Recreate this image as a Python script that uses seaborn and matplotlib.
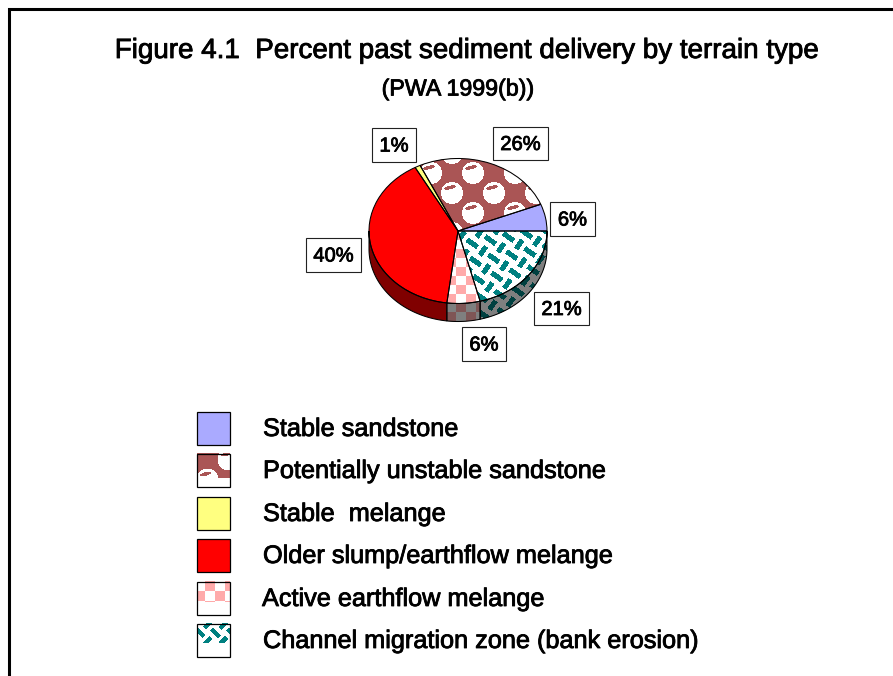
import numpy as np
import seaborn as sns
import matplotlib.pyplot as plt
import matplotlib.patheffects as pe
from matplotlib.patches import Rectangle

W, H = 893, 676

title = "Figure 4.1  Percent past sediment delivery by terrain type"
subtitle = "(PWA 1999(b))"
terrain_types = ["Stable sandstone", "Potentially unstable sandstone", "Stable  melange",
                 "Older slump/earthflow melange", "Active earthflow melange",
                 "Channel migration zone (bank erosion)"]
percent = [6, 26, 1, 40, 6, 21]
slice_colors = ["#AAAAFF", "#AA5555", "#FFFF80", "#FF0000", "#FFAAAA", "#008080"]

# label boxes, left/top/right/bottom in pixels
label_boxes = [(550, 202, 595, 236), (493, 127, 548, 160), (372, 128, 416, 162),
               (306, 238, 361, 272), (462, 327, 506, 361), (534, 292, 589, 325)]
legend_y = [428, 470, 513, 555, 598, 640]
legend_text_x = [263, 263, 263, 263, 262, 263]

CX, CY, RX, RY, DEPTH = 458, 231, 89, 72.5, 18

sns.set_theme(style="white", font="Liberation Sans")
palette = sns.color_palette(slice_colors)
white = np.array([1.0, 1.0, 1.0])


def blend(mask, fg, bg=white):
    return np.where(mask[..., None], np.array(fg), np.array(bg))


def blobs(x, y, fg, ox=473, oy=173):
    # white circles with a small crescent on a flat colour
    a = np.deg2rad(15)
    best = np.zeros_like(x, dtype=bool)
    for cx, cy in [(0, 0), (21, 20), (42, 0), (0, 40), (42, 40)]:
        dx = (x - ox) % 42 - cx
        dy = (y - oy) % 40 - cy
        circle = dx ** 2 + dy ** 2 < 11 ** 2
        ex, ey = dx + 2, dy + 5.5
        u = ex * np.cos(a) - ey * np.sin(a)
        v = ex * np.sin(a) + ey * np.cos(a)
        cres = (u / 6) ** 2 + (v / 1.8) ** 2 < 1
        best |= circle & ~cres
    return blend(best, white, fg)


def checker(x, y, fg, bg=white):
    mask = (np.floor((x - 456) / 10) + np.floor((y - 285) / 9)) % 2 == 0
    return blend(mask, fg, bg)


def weave(x, y, fg, bg=white, c=13.0, ox=0, oy=0, angle=35):
    a = np.deg2rad(angle)
    xx, yy = x - ox, y - oy
    u = (xx * np.cos(a) + yy * np.sin(a)) / c
    v = (-xx * np.sin(a) + yy * np.cos(a)) / c
    iu, iv = np.floor(u), np.floor(v)
    fu, fv = u - iu, v - iv
    even = (iu + iv) % 2 == 0
    along_u = even & (np.abs(fv - 0.5) < 0.2)
    along_v = ~even & (np.abs(fu - 0.5) < 0.2) & (np.abs(fv - 0.5) < 0.42)
    return blend(along_u | along_v, fg, bg)


def textured(ax, x, y, rgb, clip, extent, zorder=2):
    im = ax.imshow(rgb, extent=extent, origin="upper", aspect="auto",
                   interpolation="nearest", zorder=zorder)
    im.set_clip_path(clip)
    return im


fig = plt.figure(figsize=(W / 100, H / 100), dpi=100, facecolor="white")

# pie axes: one data unit is RX pixels across and RY pixels down, so it squashes
xlim = (-1.03, 1.03)
ylim = (-1.32, 1.03)
left, right = CX + RX * xlim[0], CX + RX * xlim[1]
top, bottom = CY - RY * ylim[1], CY - RY * ylim[0]
pie_ax = fig.add_axes([left / W, 1 - bottom / H, (right - left) / W, (bottom - top) / H], zorder=1)

wedges, _ = pie_ax.pie(percent, colors=palette, startangle=0, counterclock=True,
                       wedgeprops={"linewidth": 0, "zorder": 1})
outline, _ = pie_ax.pie(percent, colors=palette, startangle=0, counterclock=True,
                        wedgeprops={"linewidth": 0.75, "edgecolor": "black", "fill": False, "zorder": 4})

xp, yp = np.meshgrid(np.arange(int(left), int(right) + 1) + 0.5,
                     np.arange(int(top), int(bottom) + 1) + 0.5)
extent = [(int(left) - CX) / RX, (int(right) + 1 - CX) / RX,
          (CY - int(bottom) - 1) / RY, (CY - int(top)) / RY]

patterns = {
    1: lambda fg, bg: blobs(xp, yp, fg),
    4: lambda fg, bg: checker(xp, yp, fg, bg),
    5: lambda fg, bg: weave(xp, yp, fg, bg),
}

for i, w in enumerate(wedges):
    if i in patterns:
        textured(pie_ax, xp, yp, patterns[i](np.array(palette[i]), white), w, extent)

# rim of the disc, only where a slice faces the viewer
d = DEPTH / RY
for i, w in enumerate(wedges):
    t1, t2 = max(w.theta1, 180), min(w.theta2, 360)
    if t2 <= t1:
        continue
    t = np.deg2rad(np.linspace(t1, t2, 80))
    px = np.r_[np.cos(t), np.cos(t)[::-1]]
    py = np.r_[np.sin(t), np.sin(t)[::-1] - d]
    dark = np.array(palette[i]) * 0.5
    poly = pie_ax.fill(px, py, color=dark, lw=0, zorder=1)[0]
    if i in patterns:
        textured(pie_ax, xp, yp, patterns[i](dark, white * 0.5), poly, extent)
    pie_ax.fill(px, py, fill=False, ec="black", lw=0.75, zorder=4)

pie_ax.set_aspect("auto")
pie_ax.set_xlim(*xlim)
pie_ax.set_ylim(*ylim)
pie_ax.axis("off")

# everything else lives on a full page axes in pixel coordinates
ax = fig.add_axes([0, 0, 1, 1], zorder=2)
ax.set_xlim(0, W)
ax.set_ylim(H, 0)
ax.axis("off")

ax.plot([8.5, 8.5, W], [H, 8.5, 8.5], color="black", lw=2.2, solid_joinstyle="miter")

heavy = [pe.withStroke(linewidth=0.6, foreground="black")]
ax.text(466, 51, title, ha="center", va="center", fontsize=20, color="black", path_effects=heavy)
ax.text(457.5, 89, subtitle, ha="center", va="center", fontsize=16.7, color="black", path_effects=heavy)

for value, (x0, y0, x1, y1) in zip(percent, label_boxes):
    ax.add_patch(Rectangle((x0, y0), x1 - x0, y1 - y0, fc="white", ec="#222222", lw=0.8))
    ax.text((x0 + x1) / 2, (y0 + y1) / 2 + 1, f"{value}%", ha="center", va="center",
            fontsize=14.5, color="black", path_effects=heavy)

# legend keys, the fill patterns only reach part way down the key
key_w = 33
for i, (name, yc, tx) in enumerate(zip(terrain_types, legend_y, legend_text_x)):
    x0, y0 = 196.5, yc - 16.5
    box = Rectangle((x0, y0), key_w, key_w, fc=palette[i] if i not in patterns else "none",
                    ec="black", lw=0.9, zorder=3)
    ax.add_patch(box)
    if i in patterns:
        kx, ky = np.meshgrid(np.arange(x0, x0 + key_w) + 0.5, np.arange(y0, y0 + key_w) + 0.5)
        c = np.array(palette[i])
        if i == 1:
            rgb = blobs(kx, ky, c, ox=228, oy=460)
            reach = 25
        elif i == 4:
            rgb = blend((np.floor((kx - x0 + 2) / 10) + np.floor((ky - y0) / 10)) % 2 == 1, c)
            reach = 21
        else:
            rgb = weave(kx, ky, c, c=11.0, ox=x0 + 3, oy=y0 + 2, angle=45)
            reach = 20
        rgb[ky - y0 > reach] = 1.0
        ax.imshow(rgb, extent=[x0, x0 + key_w, y0 + key_w, y0], origin="upper", aspect="auto",
                  interpolation="nearest", zorder=2)
    ax.text(tx, yc + 1, name, ha="left", va="center", fontsize=18.2, color="black", path_effects=heavy)

ax.set_xlim(0, W)
ax.set_ylim(H, 0)

fig.savefig("out.png", dpi=100, facecolor="white")
